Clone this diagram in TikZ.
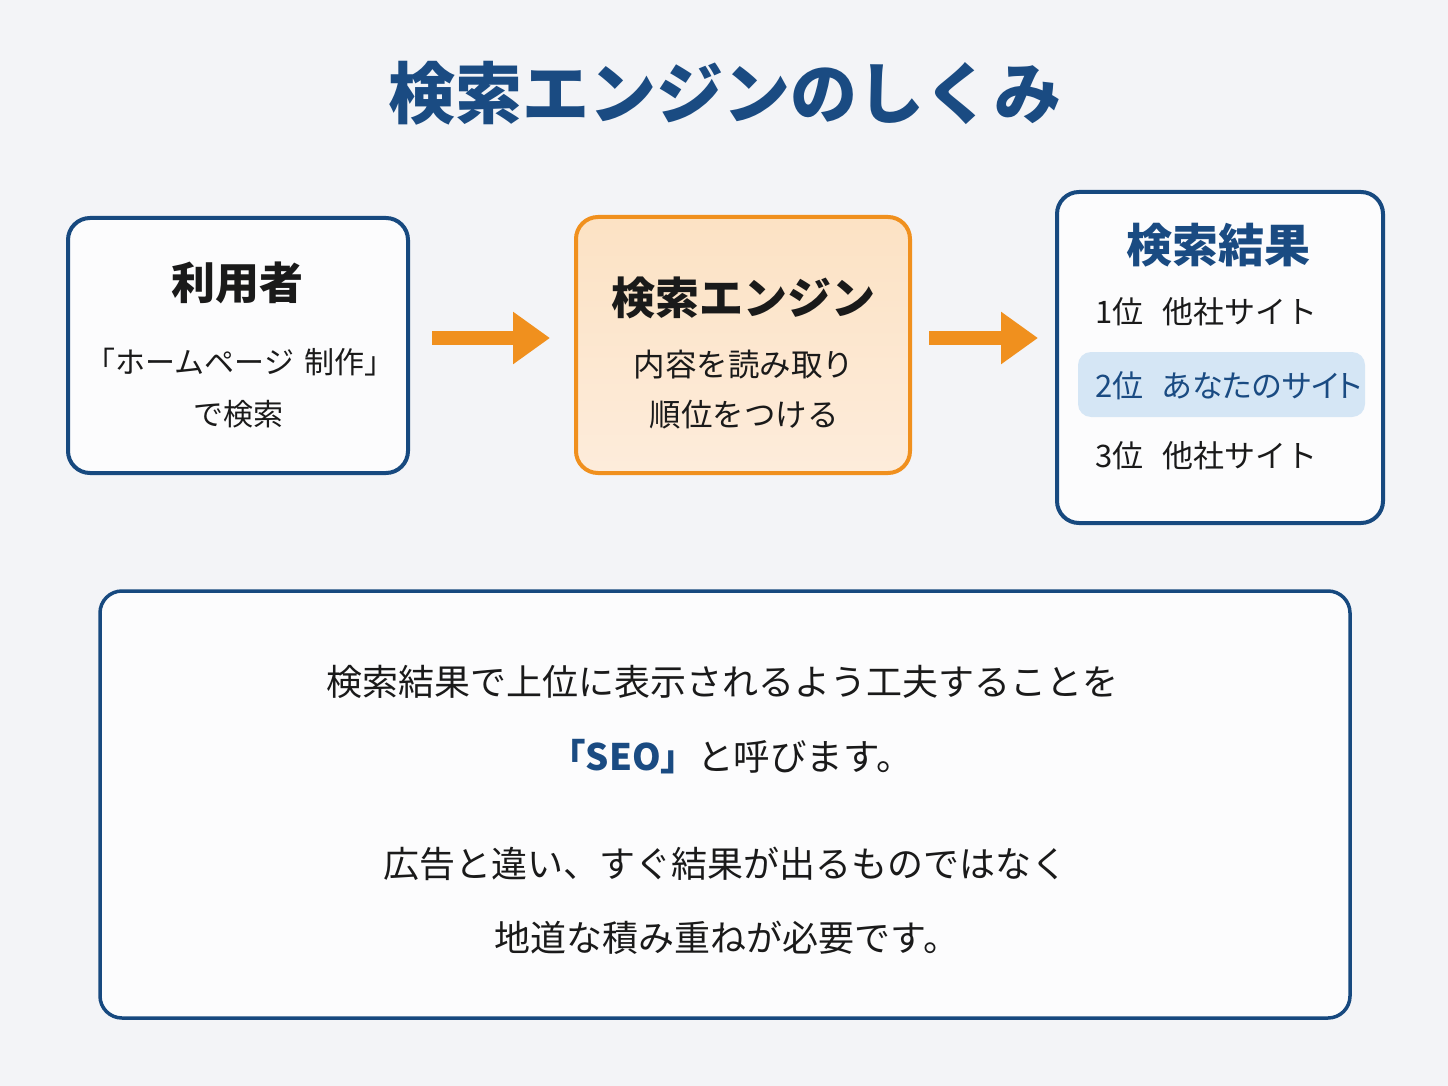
\documentclass[tikz,border=0pt]{standalone}
\usepackage{fontspec}
\setmainfont{Noto Sans CJK JP}
\newfontfamily\jpprop[RawFeature=+palt]{Noto Sans CJK JP}
\usetikzlibrary{arrows.meta}
\definecolor{bg}{HTML}{F3F4F7}
\definecolor{navy}{HTML}{17497F}
\definecolor{ttl}{HTML}{1A4B82}
\definecolor{org}{HTML}{F0901E}
\definecolor{peachtop}{HTML}{FCE2C4}
\definecolor{peachbot}{HTML}{FDECDB}
\definecolor{boxfill}{HTML}{FCFCFD}
\definecolor{hl}{HTML}{D5E6F5}
\definecolor{txt}{HTML}{1A1A1A}
\tikzset{
  panel/.style={draw=navy, line width=4pt, rounded corners=22pt, fill=boxfill, inner sep=0pt},
  enginebox/.style={draw=org, line width=4pt, rounded corners=22pt, top color=peachtop, bottom color=peachbot, inner sep=0pt},
  flow/.style={draw=org, line width=14pt, -{Triangle[length=37pt,width=50pt]}},
  txt/.style={text=txt, inner sep=0pt, font=\fontsize{#1}{#1}\selectfont},
  btxt/.style={text=txt, inner sep=0pt, font=\fontsize{#1}{#1}\selectfont\bfseries},
}
\begin{document}
\begin{tikzpicture}[x=1pt,y=-1pt]
\fill[bg] (0,0) rectangle (1448,1086);
\useasboundingbox (0,0) rectangle (1448,1086);
% title
\node[inner sep=0pt, text=ttl, font=\fontsize{67}{67}\selectfont\bfseries] (title) at (725,93) {検索エンジンのしくみ};
% box 1
\node[panel, minimum width=340pt, minimum height=255pt] (b1) at (238,345.5) {};
\node[btxt=44] (b1t) at (237,283) {利用者};
\node[txt=30] (b1a) at (240,362) {「ホームページ\hspace{0.35em}制作」};
\node[txt=30] (b1b) at (238,414) {で検索};
% box 2
\node[enginebox, minimum width=334pt, minimum height=256pt] (b2) at (743,345) {};
\node[btxt=44] (b2t) at (743,298) {検索エンジン};
\node[txt=31.5] (b2a) at (744,365) {内容を読み取り};
\node[txt=31.5] (b2b) at (744,415) {順位をつける};
% box 3
\node[panel, minimum width=326pt, minimum height=331pt] (b3) at (1220,357.5) {};
\node[inner sep=0pt, text=ttl, font=\fontsize{46}{46}\selectfont\bfseries] (b3t) at (1218,245) {検索結果};
\node[fill=hl, rounded corners=13pt, minimum width=287pt, minimum height=65pt, inner sep=0pt] (hlbox) at (1221.5,384.5) {};
\node[txt=31, anchor=west] (r1) at (1095,312) {1位\hspace{0.6em}他社サイト};
\node[txt=31, anchor=west, text=ttl] (r2) at (1095,386) {2位\hspace{0.6em}{\jpprop あなたのサイト}};
\node[txt=31, anchor=west] (r3) at (1095,456) {3位\hspace{0.6em}他社サイト};
% arrows
\draw[flow, shorten <=22pt, shorten >=24pt] ([yshift=7.5pt]b1.east) -- ([yshift=7pt]b2.west);
\draw[flow, shorten <=17pt, shorten >=17pt] ([yshift=7pt]b2.east) -- ([yshift=19.5pt]b3.west);
% bottom box
\node[panel, line width=3.5pt, minimum width=1250pt, minimum height=427pt] (b4) at (725,804.5) {};
\node[txt=36] (l1) at (722,682) {検索結果で上位に表示されるよう工夫することを};
\node[txt=36.5] (l2) at (731,757) {\textcolor{ttl}{\bfseries 「SEO」}と呼びます。};
\node[txt=36] (l3) at (725,864) {広告と違い、すぐ結果が出るものではなく};
\node[txt=36] (l4) at (727,938) {地道な積み重ねが必要です。};
\end{tikzpicture}
\end{document}
